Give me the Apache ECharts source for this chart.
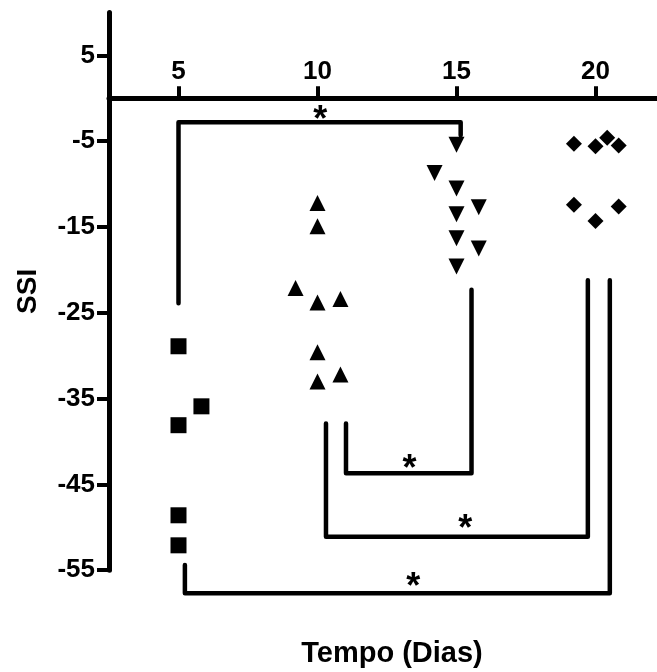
<!DOCTYPE html>
<html>
<head>
<meta charset="utf-8">
<script src="https://cdn.jsdelivr.net/npm/echarts@6/dist/echarts.min.js"></script>
<style>html,body{margin:0;padding:0;background:#fff}#c{width:657px;height:672px}</style>
</head>
<body>
<div id="c"></div>
<script>
// ---- data ----
const xCategories = ['5', '10', '15', '20'];
const yTickValues = [-55, -45, -35, -25, -15, -5, 5];

// group 1 (day 5) squares
const sqValues  = [-28.9, -35.9, -38.1, -48.6, -52.1];
const sqJitter  = [0, 0.165, 0, 0, 0];
// group 2 (day 10) triangles
const triValues = [-12.2, -14.9, -22.1, -23.8, -23.4, -29.6, -32.2, -33.0];
const triJitter = [0, 0, -0.158, 0, 0.165, 0, 0.165, 0];
// group 3 (day 15) inverted triangles
const invValues = [-5.4, -8.7, -10.5, -12.7, -13.5, -16.3, -17.5, -19.6];
const invJitter = [0, -0.158, 0, 0.16, 0, 0, 0.16, 0];
// group 4 (day 20) diamonds
const diaValues = [-5.3, -5.6, -4.6, -5.5, -12.4, -14.3, -12.6];
const diaJitter = [-0.155, 0, 0.084, 0.167, -0.155, 0, 0.167];

// significance brackets
const bracketLeftX   = [0.00, 1.205, 1.061, 0.046];
const bracketRightX  = [2.03, 2.108, 2.945, 3.103];
const bracketLeftEnd = [-23.9, -37.9, -37.9, -54.4];
const bracketBar     = [-2.8, -43.7, -51.1, -57.7];
const bracketRightEnd= [-4.3, -22.3, -21.2, -21.2];
const starX = [1.02, 1.662, 2.063, 1.688];
const starY = [-1.75, -42.4, -49.35, -56.15];

// ---- chart ----
const FONT = '"Liberation Sans", Arial, sans-serif';
const Y_MIN = -55, Y_MAX = 10;
const GRID_TOP = 12.5, GRID_H = 557.7;
const chart = echarts.init(document.getElementById('c'), null, {renderer: 'canvas'});

function pts(groupIdx, values, jitter) {
  return values.map((v, i) => [groupIdx + jitter[i], v]);
}
function scatter(groupIdx, values, jitter, symbol, size, rotate) {
  return {
    type: 'scatter', xAxisIndex: 1, yAxisIndex: 0,
    data: pts(groupIdx, values, jitter),
    symbol: symbol, symbolSize: size, symbolRotate: rotate || 0,
    itemStyle: {color: '#000', opacity: 1}, clip: false, z: 5
  };
}
const bracketSeries = bracketLeftX.map((lx, i) => ({
  type: 'line', xAxisIndex: 1, yAxisIndex: 0, clip: false, symbol: 'none',
  data: [[lx, bracketLeftEnd[i]], [lx, bracketBar[i]], [bracketRightX[i], bracketBar[i]], [bracketRightX[i], bracketRightEnd[i]]],
  lineStyle: {color: '#000', width: 4.5, opacity: 1, cap: 'round', join: 'round'}, z: 4
}));

// offset that puts the top-positioned category axis on the y = 0 line
const zeroOffset = -(Y_MAX / (Y_MAX - Y_MIN)) * GRID_H;

const option = {
  animation: false,
  backgroundColor: '#fff',
  grid: {left: 109, top: GRID_TOP, width: 556, height: GRID_H, outerBoundsMode: 'none', containLabel: false},
  xAxis: [
    {
      type: 'category', data: xCategories, position: 'top', boundaryGap: true, offset: zeroOffset,
      axisLine: {show: true, onZero: false, lineStyle: {color: '#000', width: 5}},
      axisTick: {show: true, alignWithLabel: true, length: 12, lineStyle: {color: '#000', width: 4}},
      axisLabel: {margin: 13, fontSize: 26, fontWeight: 'bold', color: '#000', fontFamily: FONT},
      splitLine: {show: false}
    },
    {
      type: 'value', min: -0.5, max: 3.5, position: 'bottom',
      axisLine: {show: false, onZero: false}, axisTick: {show: false}, axisLabel: {show: false},
      splitLine: {show: false},
      name: 'Tempo (Dias)', nameLocation: 'middle', nameGap: 69,
      nameTextStyle: {fontSize: 29, fontWeight: 'bold', color: '#000', fontFamily: FONT, padding: [0, 0, 0, 10]}
    }
  ],
  yAxis: {
    type: 'value', min: Y_MIN, max: Y_MAX,
    axisLine: {show: true, onZero: false, lineStyle: {color: '#000', width: 5, cap: 'round'}},
    axisTick: {show: true, length: 12, customValues: yTickValues, lineStyle: {color: '#000', width: 4}},
    axisLabel: {customValues: yTickValues, margin: 14, fontSize: 26, fontWeight: 'bold', color: '#000', fontFamily: FONT},
    splitLine: {show: false},
    name: 'SSI', nameLocation: 'middle', nameGap: 67, nameRotate: 90,
    nameTextStyle: {fontSize: 28, fontWeight: 'bold', color: '#000', fontFamily: FONT}
  },
  series: [
    scatter(0, sqValues, sqJitter, 'rect', 16),
    scatter(1, triValues, triJitter, 'triangle', 16),
    scatter(2, invValues, invJitter, 'triangle', 16, 180),
    scatter(3, diaValues, diaJitter, 'diamond', 16),
    ...bracketSeries,
    {
      type: 'scatter', xAxisIndex: 1, yAxisIndex: 0, clip: false,
      data: starX.map((x, i) => [x, starY[i]]),
      symbol: 'circle', symbolSize: 0.01, itemStyle: {color: 'rgba(0,0,0,0)', opacity: 1},
      label: {show: true, position: 'inside', formatter: '*', fontSize: 36, fontWeight: 'bold', color: '#000', opacity: 1, fontFamily: FONT, offset: [0, 8]},
      z: 6
    }
  ]
};
chart.setOption(option);
</script>
</body>
</html>
